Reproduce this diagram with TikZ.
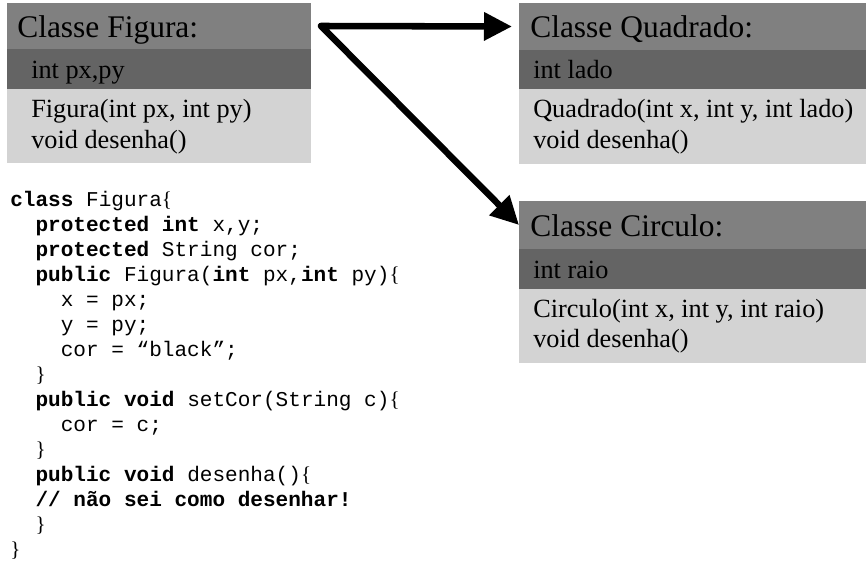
\documentclass[tikz,border=0pt]{standalone}
\usepackage{fontspec}
\setmainfont{Liberation Serif}
\newfontfamily\codefont{Liberation Mono}
\usetikzlibrary{fit,arrows.meta}
\definecolor{hdr}{RGB}{128,128,128}
\definecolor{att}{RGB}{100,100,100}
\definecolor{met}{RGB}{211,211,211}
\newcommand\kw[1]{\textbf{#1}}
\newcommand\lbr{{\rmfamily\{}}
\newcommand\rbr{{\rmfamily\}}}
\newcommand\indA{\hspace*{1.2em}}
\newcommand\indB{\hspace*{2.4em}}
\begin{document}
\begin{tikzpicture}[x=0.75pt,y=-0.75pt,
  band/.style={inner sep=0pt,outer sep=0pt,draw=none},
  title/.style={anchor=base west,inner sep=0pt,font=\fontsize{23.6}{28}\selectfont},
  body/.style={anchor=base west,inner sep=0pt,font=\fontsize{19.7}{24}\selectfont},
  codeline/.style={anchor=base west,inner sep=0pt,font=\codefont\fontsize{15.8}{18}\selectfont},
  arrowline/.style={line width=4.9pt,line join=round,
    {Triangle[length=21pt,width=20.25pt]}-{Triangle[length=21pt,width=20.25pt]}}]
\useasboundingbox (0,0) rectangle (866,573);
% Classe Figura
\node[band,fill=hdr,fit={(7,3) (311,49)}] (figH) {};
\node[band,fill=att,fit={(7,49) (311,89)}] (figA) {};
\node[band,fill=met,fit={(7,89) (311,163)}] (figM) {};
\node[title] (figT) at (17,38) {Classe Figura:};
\node[body] (figA1) at (31,79) {int px,py};
\node[body] (figM1) at (31,117.5) {Figura(int px, int py)};
\node[body] (figM2) at (31,148.5) {void desenha()};
% Classe Quadrado
\node[band,fill=hdr,fit={(519,3) (866,50)}] (quadH) {};
\node[band,fill=att,fit={(519,50) (866,89)}] (quadA) {};
\node[band,fill=met,fit={(519,89) (866,164)}] (quadM) {};
\node[title] (quadT) at (530,37.5) {Classe Quadrado:};
\node[body] (quadA1) at (533,79) {int lado};
\node[body] (quadM1) at (533,117.5) {Quadrado(int x, int y, int lado)};
\node[body] (quadM2) at (533,148.5) {void desenha()};
% Classe Circulo
\node[band,fill=hdr,fit={(519,201) (866,249)}] (circH) {};
\node[band,fill=att,fit={(519,249) (866,289)}] (circA) {};
\node[band,fill=met,fit={(519,289) (866,363)}] (circM) {};
\node[title] (circT) at (530,237) {Classe Circulo:};
\node[body] (circA1) at (533,278) {int raio};
\node[body] (circM1) at (533,317) {Circulo(int x, int y, int raio)};
\node[body] (circM2) at (533,347.5) {void desenha()};
% arrows
\coordinate (start) at ([xshift=7.5pt]figH.east);
\coordinate (qend) at ([xshift=-5.25pt]quadH.west);
\draw[arrowline] (qend) -- (start) -- (circH.west);
% code
\node[codeline] (c0) at (10,206.5) {\kw{class} Figura\lbr};
\node[codeline] (c1) at (10,231.5) {\indA\kw{protected int} x,y;};
\node[codeline] (c2) at (10,256.5) {\indA\kw{protected} String cor;};
\node[codeline] (c3) at (10,281.5) {\indA\kw{public} Figura(\kw{int} px,\kw{int} py)\lbr};
\node[codeline] (c4) at (10,306.5) {\indB x = px;};
\node[codeline] (c5) at (10,331.5) {\indB y = py;};
\node[codeline] (c6) at (10,356.5) {\indB cor = “black”;};
\node[codeline] (c7) at (10,381.5) {\indA\rbr};
\node[codeline] (c8) at (10,406.5) {\indA\kw{public void} setCor(String c)\lbr};
\node[codeline] (c9) at (10,431.5) {\indB cor = c;};
\node[codeline] (c10) at (10,456.5) {\indA\rbr};
\node[codeline] (c11) at (10,481.5) {\indA\kw{public void} desenha()\lbr};
\node[codeline] (c12) at (10,506.5) {\indA\kw{// não sei como desenhar!}};
\node[codeline] (c13) at (10,531.5) {\indA\rbr};
\node[codeline] (c14) at (10,556.5) {\rbr};
\end{tikzpicture}
\end{document}
